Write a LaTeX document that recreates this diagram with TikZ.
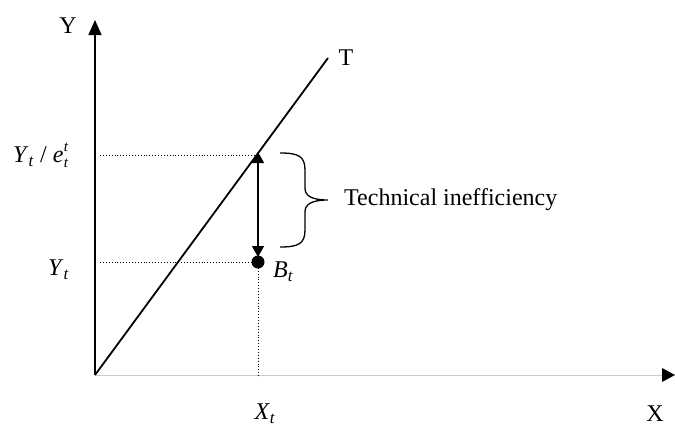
\documentclass[tikz,border=0pt]{standalone}
\usepackage{fontspec}
\setmainfont{Liberation Serif}
\usetikzlibrary{arrows.meta}
\newcommand{\itsub}[2]{\textit{#1}\textsubscript{\textit{#2}}}
\begin{document}
\begin{tikzpicture}[x=1pt,y=-1pt,
  lbl/.style={inner sep=0pt,font=\fontsize{24}{28}\selectfont},
  idx/.style={inner sep=0pt,font=\fontsize{15}{17}\selectfont\itshape,anchor=base west},
  axisline/.style={line width=1.6pt,-{Triangle[width=13pt,length=15pt]}},
  guide/.style={dotted,line width=0.9pt},
  tline/.style={line width=1.8pt},
  gap/.style={line width=1.5pt,{Triangle[width=12pt,length=11pt]}-{Triangle[width=12pt,length=11pt]}}]
\useasboundingbox (0,0) rectangle (675,434);
\coordinate (O) at (95,375);
\coordinate (Ytop) at (95,20);
\coordinate (Xend) at (675,375);
\coordinate (Ttop) at (328,58);
\coordinate (P) at (258,155);
\coordinate (Q) at (258,262);
\coordinate (Xt) at (258,378);
\coordinate (Ya) at (100,155);
\coordinate (Yb) at (100,262);
% axes
\draw[line width=0.8pt,black!20] (O) -- (664,375);
\fill (Xend) -- (662,368) -- (662,382) -- cycle;
\draw[axisline] (O) -- (Ytop);
% frontier
\draw[tline] (O) -- (Ttop);
% guides
\draw[guide] (Ya) -- (P);
\draw[guide] (Yb) -- (Q);
\draw[guide] (Q) -- (Xt);
% gap arrow and point
\draw[gap] (258,257) -- (258,152);
\node[circle,fill,inner sep=0pt,minimum size=13pt] (B) at (Q) {};
% brace
\draw[line width=1.3pt] (280,153) .. controls (298,153) and (305,156) .. (305,170)
  -- (305,188) .. controls (305,196) and (312,200) .. (328,200)
  .. controls (312,200) and (305,204) .. (305,212)
  -- (305,230) .. controls (305,244) and (298,247) .. (280,247);
% labels
\node[lbl] (ly) at (68,26) {Y};
\node[lbl] (lt) at (346,58) {T};
\node[lbl,anchor=west] (lyte) at (13,157) {\itsub{Y}{t} / \textit{e}};
\node[idx,yshift=11pt] (lsup) at (lyte.base east) {t};
\node[idx,yshift=-5pt] (lsub) at (lyte.base east) {t};
\node[lbl,anchor=west] (lyt) at (48,270) {\itsub{Y}{t}};
\node[lbl,anchor=west] (lbt) at (273,272) {\itsub{B}{t}};
\node[lbl,anchor=west] (ltech) at (344,200) {Technical inefficiency};
\node[lbl] (lxt) at (265,414) {\itsub{X}{t}};
\node[lbl] (lx) at (655,414) {X};
\end{tikzpicture}
\end{document}
